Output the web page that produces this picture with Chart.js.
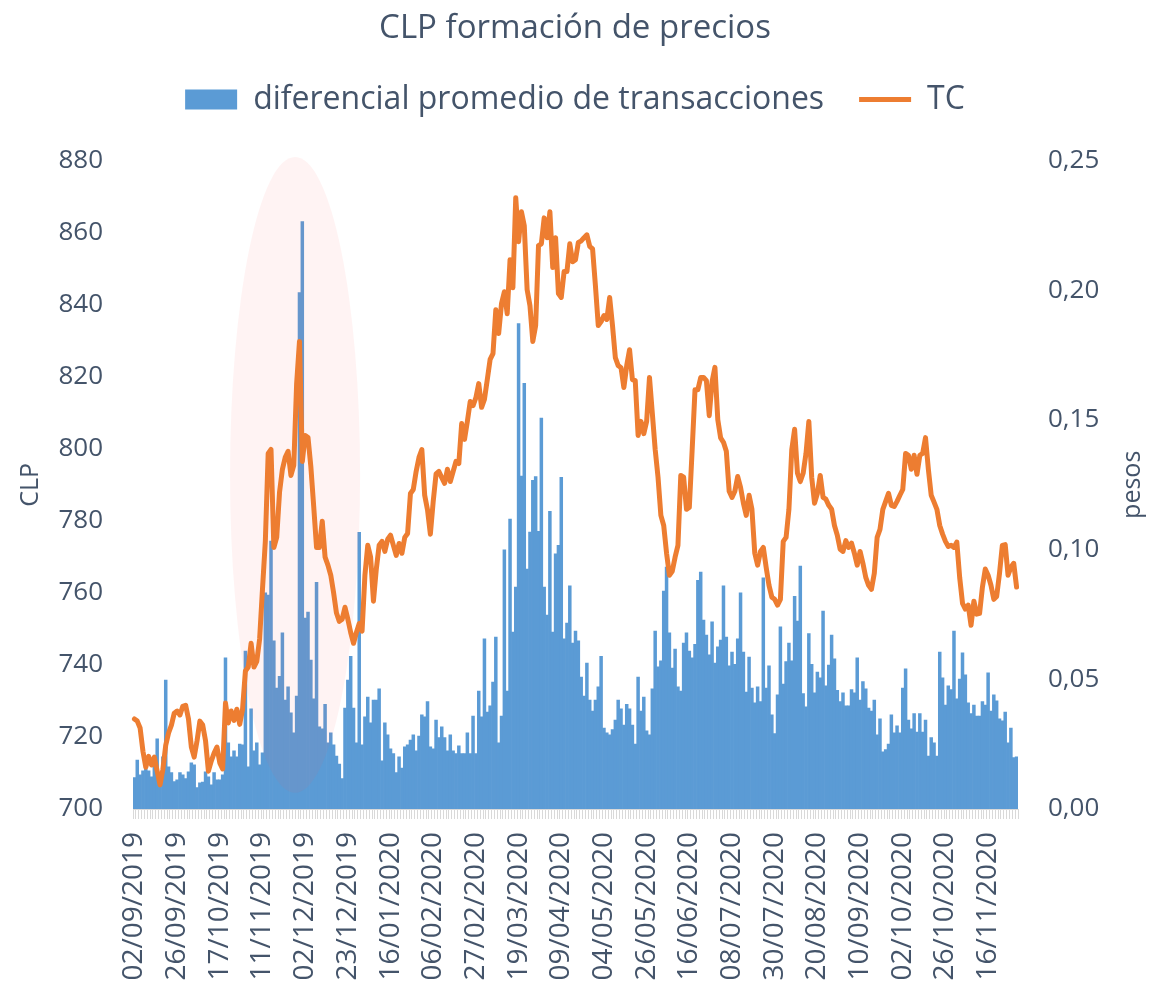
<!DOCTYPE html>
<html>
<head>
<meta charset="utf-8">
<title>CLP formación de precios</title>
<script src="https://cdn.jsdelivr.net/npm/chart.js@4.4.1/dist/chart.umd.min.js"></script>
<style>
  html, body { margin: 0; padding: 0; background: #fff; }
  #view-canvas { display: block; }
</style>
</head>
<body>
<canvas id="view-canvas" width="1150" height="986"></canvas>
<script>
var canvas = document.getElementById('view-canvas');

// axis labels, one every 15 trading days
var tickLabels = ['02/09/2019', '26/09/2019', '17/10/2019', '11/11/2019', '02/12/2019',
    '23/12/2019', '16/01/2020', '06/02/2020', '27/02/2020', '19/03/2020', '09/04/2020',
    '04/05/2020', '26/05/2020', '16/06/2020', '08/07/2020', '30/07/2020', '20/08/2020',
    '10/09/2020', '02/10/2020', '26/10/2020', '16/11/2020'];
var labelStep = 15;

// diferencial promedio de transacciones (pesos, right axis)
var spread = [
    0.0121, 0.0189, 0.0132, 0.0147, 0.0155, 0.0147, 0.0124, 0.0170, 0.0271, 0.0093,
    0.0201, 0.0497, 0.0163, 0.0140, 0.0106, 0.0112, 0.0140, 0.0132, 0.0117, 0.0143,
    0.0178, 0.0170, 0.0083, 0.0101, 0.0104, 0.0143, 0.0124, 0.0093, 0.0140, 0.0112,
    0.0112, 0.0132, 0.0583, 0.0255, 0.0201, 0.0224, 0.0201, 0.0250, 0.0247, 0.0609,
    0.0163, 0.0386, 0.0224, 0.0255, 0.0170, 0.0217, 0.0833, 0.0825, 0.1033, 0.0648,
    0.0466, 0.0512, 0.0679, 0.0420, 0.0471, 0.0371, 0.0294, 0.0435, 0.1991, 0.2265,
    0.0736, 0.0759, 0.0574, 0.0425, 0.0874, 0.0317, 0.0309, 0.0404, 0.0255, 0.0294,
    0.0247, 0.0204, 0.0173, 0.0117, 0.0389, 0.0497, 0.0589, 0.0389, 0.0255, 0.1067,
    0.0247, 0.0355, 0.0432, 0.0332, 0.0420, 0.0420, 0.0463, 0.0186, 0.0332, 0.0286,
    0.0232, 0.0214, 0.0140, 0.0201, 0.0158, 0.0240, 0.0247, 0.0266, 0.0286, 0.0224,
    0.0281, 0.0363, 0.0355, 0.0414, 0.0240, 0.0232, 0.0343, 0.0275, 0.0317, 0.0275,
    0.0224, 0.0286, 0.0224, 0.0214, 0.0244, 0.0214, 0.0214, 0.0294, 0.0214, 0.0358,
    0.0214, 0.0455, 0.0355, 0.0656, 0.0374, 0.0398, 0.0489, 0.0663, 0.0255, 0.0358,
    0.0999, 0.0455, 0.1118, 0.0682, 0.0856, 0.1872, 0.1284, 0.1641, 0.0925, 0.1068,
    0.1267, 0.1282, 0.1071, 0.1507, 0.0856, 0.0748, 0.1148, 0.0682, 0.0984, 0.1017,
    0.1279, 0.0656, 0.0717, 0.0860, 0.0640, 0.0686, 0.0648, 0.0509, 0.0435, 0.0563,
    0.0420, 0.0378, 0.0420, 0.0471, 0.0589, 0.0312, 0.0294, 0.0286, 0.0306, 0.0343,
    0.0420, 0.0386, 0.0324, 0.0404, 0.0386, 0.0324, 0.0250, 0.0509, 0.0378, 0.0432,
    0.0301, 0.0286, 0.0463, 0.0686, 0.0548, 0.0571, 0.0840, 0.0933, 0.0679, 0.0543,
    0.0617, 0.0471, 0.0455, 0.0640, 0.0679, 0.0609, 0.0583, 0.0635, 0.0882, 0.0913,
    0.0728, 0.0671, 0.0594, 0.0722, 0.0563, 0.0625, 0.0651, 0.0860, 0.0663, 0.0552,
    0.0605, 0.0558, 0.0656, 0.0833, 0.0605, 0.0451, 0.0586, 0.0466, 0.0409, 0.0471,
    0.0414, 0.0891, 0.0466, 0.0552, 0.0363, 0.0291, 0.0440, 0.0702, 0.0482, 0.0568,
    0.0640, 0.0571, 0.0820, 0.0725, 0.0937, 0.0445, 0.0394, 0.0676, 0.0558, 0.0448,
    0.0528, 0.0506, 0.0763, 0.0475, 0.0555, 0.0671, 0.0579, 0.0458, 0.0414, 0.0448,
    0.0398, 0.0398, 0.0460, 0.0448, 0.0583, 0.0420, 0.0491, 0.0463, 0.0389, 0.0378,
    0.0420, 0.0286, 0.0348, 0.0220, 0.0229, 0.0250, 0.0363, 0.0294, 0.0321, 0.0294,
    0.0466, 0.0540, 0.0343, 0.0309, 0.0368, 0.0297, 0.0368, 0.0297, 0.0343, 0.0204,
    0.0275, 0.0255, 0.0204, 0.0605, 0.0506, 0.0401, 0.0475, 0.0460, 0.0686, 0.0425,
    0.0501, 0.0602, 0.0517, 0.0409, 0.0368, 0.0401, 0.0358, 0.0358, 0.0414, 0.0401,
    0.0525, 0.0378, 0.0440, 0.0417, 0.0348, 0.0340, 0.0374, 0.0255, 0.0312, 0.0198,
    0.0201
];

// TC (CLP, left axis)
var tc = [
    725, 724.4, 722.5, 716, 711.6, 714.6, 712.2, 714.4, 710.5, 706.7,
    711, 717.7, 721.1, 723.3, 726.6, 727.2, 726.1, 728.5, 728.8, 725,
    717.2, 714.4, 718.9, 724.4, 723.3, 718.9, 710.5, 713.3, 715.5, 717.2,
    712.8, 711.1, 729.4, 723.9, 727.2, 724.6, 727.7, 723.5, 727.7, 738.3,
    739.4, 746, 739.4, 741, 747.2, 761, 774.3, 798.7, 799.8, 772.6,
    775.4, 788, 794.3, 797.6, 799.3, 792.6, 795.4, 818, 829.8, 796.5,
    803.7, 803.1, 795, 784, 772.6, 772.6, 779.9, 769.9, 767.7, 764.9,
    760, 754.4, 752.1, 752.7, 756, 752.7, 749, 746, 749, 751.5,
    749.4, 764.9, 773.2, 769.9, 757.7, 766.6, 773.2, 774.3, 771.5, 774.9,
    776, 773.2, 770.4, 773.7, 771, 775.4, 776.5, 787.6, 788.7, 793.7,
    797.6, 799.8, 787.1, 783, 776.3, 785.4, 793, 793.7, 792, 790.4,
    794.3, 790.9, 793.7, 796.5, 795.9, 807, 802.6, 807.6, 813.1, 812,
    814.2, 818.1, 811.5, 813.7, 819.2, 824.8, 826.4, 838.6, 832, 840.3,
    843.6, 837.5, 852.5, 844.7, 869.7, 857.5, 865.8, 861.9, 844.2, 839.7,
    829.8, 834.2, 856.4, 856.9, 864.1, 858.6, 865.8, 850.3, 858.6, 843.1,
    842, 849.2, 849.2, 856.9, 851.9, 852.5, 857.3, 857.7, 858.6, 859.4,
    856.2, 855.5, 845.3, 834.2, 835.3, 837, 835.9, 842, 834.2, 825.3,
    823.1, 822.5, 817, 823.1, 827.5, 819.2, 818.9, 803.7, 807.6, 804.2,
    807.6, 819.8, 809.8, 799.8, 792.1, 781.5, 778.7, 771, 764.9, 766,
    769.9, 773.2, 792.6, 792.1, 783.2, 783.7, 799.8, 816.4, 816.4, 819.8,
    819.8, 818.9, 809.2, 818.7, 822.6, 808.1, 803, 801.8, 799.3, 788.2,
    786.5, 788.2, 792.3, 789.3, 784.9, 781.5, 787.1, 783.2, 771, 767.7,
    771.5, 772.6, 767.1, 762.1, 758.8, 758.2, 756.6, 758.2, 774.3, 775.4,
    783.2, 799.8, 805.4, 793.2, 790.9, 793.2, 798.7, 807.6, 792.1, 784.9,
    787.6, 792.6, 786.5, 786, 784.3, 783.2, 778.7, 776, 772.1, 771.5,
    774.5, 772.6, 773.8, 771, 767.7, 771.5, 768.2, 764.3, 762.1, 761,
    765.4, 775.4, 777.6, 783.2, 785.4, 787.6, 784.3, 784, 785.4, 787.1,
    788.7, 798.7, 798.2, 794.3, 798.2, 792.9, 798.2, 798.7, 803.1, 794.3,
    787.1, 785.2, 783.2, 778.7, 776.3, 774.3, 772.9, 773.2, 772.6, 774.1,
    764.3, 757.1, 755.5, 756.6, 751, 757.7, 754.1, 754.3, 761.6, 766.6,
    764.9, 762.1, 758.2, 759, 765.4, 773.2, 773.4, 764.9, 767.1, 768.2,
    761.6
];

// highlighted period: category index range and CLP range
var markX = [33.6, 79.3];
var markY = [704.5, 881];

var textColor = '#44546A';
Chart.defaults.font.family = "'Open Sans', sans-serif";
Chart.defaults.color = textColor;

// pink ellipse over the Oct-Dec 2019 episode, drawn between bars and line
var markPlugin = {
    id: 'mark',
    afterDatasetDraw: function (chart, args) {
        if (args.index !== 0) return;
        var sx = chart.scales.x, sy = chart.scales.y, c = chart.ctx;
        var x0 = sx.getPixelForValue(markX[0]), x1 = sx.getPixelForValue(markX[1]);
        var y0 = sy.getPixelForValue(markY[1]), y1 = sy.getPixelForValue(markY[0]);
        c.save();
        c.beginPath();
        c.ellipse((x0 + x1) / 2, (y0 + y1) / 2, (x1 - x0) / 2, (y1 - y0) / 2, 0, 0, Math.PI * 2);
        c.fillStyle = 'rgba(255, 80, 80, 0.07)';
        c.fill();
        c.restore();
    }
};

// right axis title reads bottom-to-top like the left one
var rightTitle = {
    id: 'rightTitle',
    afterDraw: function (chart) {
        var s = chart.scales.y1, a = chart.chartArea, c = chart.ctx;
        c.save();
        c.translate(s.right - 17, (a.top + a.bottom) / 2);
        c.rotate(-Math.PI / 2);
        c.font = "25px 'Open Sans', sans-serif";
        c.fillStyle = textColor;
        c.textAlign = 'center';
        c.textBaseline = 'middle';
        c.fillText('pesos', 0, 0);
        c.restore();
    }
};

var myChart = new Chart(canvas, {
    type: 'bar',
    data: {
        labels: tc.map(function (v, i) { return i; }),
        datasets: [{
            label: 'diferencial promedio de transacciones',
            data: spread,
            yAxisID: 'y1',
            backgroundColor: '#5B9BD5',
            borderWidth: 0,
            barPercentage: 1,
            categoryPercentage: 1,
            pointStyle: 'rect',
            order: 1
        }, {
            type: 'line',
            label: 'TC',
            data: tc,
            yAxisID: 'y',
            borderColor: '#ED7D31',
            backgroundColor: '#ED7D31',
            borderWidth: 5,
            borderJoinStyle: 'round',
            borderCapStyle: 'round',
            pointRadius: 0,
            pointStyle: 'line',
            tension: 0,
            order: 0
        }]
    },
    options: {
        responsive: false,
        animation: false,
        devicePixelRatio: 1,
        layout: { padding: 0 },
        plugins: {
            title: {
                display: true,
                text: 'CLP formación de precios',
                color: textColor,
                font: { size: 33, weight: 'normal' },
                padding: { top: 9, bottom: 0 }
            },
            legend: {
                display: true,
                labels: {
                    color: textColor,
                    font: { size: 32 },
                    usePointStyle: true,
                    pointStyleWidth: 52,
                    boxHeight: 20,
                    padding: 35,
                    sort: function (a, b) { return a.datasetIndex - b.datasetIndex; }
                }
            },
            tooltip: { enabled: false }
        },
        scales: {
            // empty band between legend and plot
            gap: {
                type: 'category',
                position: 'top',
                grid: { display: false, drawTicks: false },
                border: { display: false },
                ticks: { display: false },
                afterFit: function (s) { s.height = 35; }
            },
            x: {
                offset: true,
                grid: {
                    display: true,
                    drawOnChartArea: false,
                    drawTicks: true,
                    tickLength: 10,
                    color: '#D9D9D9',
                    offset: true
                },
                border: { display: true, color: '#D9D9D9' },
                ticks: {
                    autoSkip: false,
                    minRotation: 90,
                    maxRotation: 90,
                    padding: 13,
                    font: { size: 28 },
                    color: textColor,
                    callback: function (v, i) {
                        return i % labelStep === 0 ? tickLabels[i / labelStep] : '';
                    }
                },
                afterFit: function (s) { s.height = 177; }
            },
            y: {
                position: 'left',
                min: 700,
                max: 880,
                grid: { display: false, drawTicks: false },
                border: { display: false },
                ticks: { stepSize: 20, padding: 30, font: { size: 26 }, color: textColor },
                title: {
                    display: true,
                    text: 'CLP',
                    color: textColor,
                    font: { size: 25 },
                    padding: { top: 16, bottom: 0 }
                },
                afterFit: function (s) { s.width = 133; }
            },
            y1: {
                position: 'right',
                min: 0,
                max: 0.25,
                grid: { display: false, drawTicks: false },
                border: { display: false },
                ticks: {
                    stepSize: 0.05,
                    padding: 30,
                    font: { size: 26 },
                    color: textColor,
                    callback: function (v) { return v.toFixed(2).replace('.', ','); }
                },
                afterFit: function (s) { s.width = 132; }
            }
        }
    },
    plugins: [markPlugin, rightTitle]
});
</script>
</body>
</html>
